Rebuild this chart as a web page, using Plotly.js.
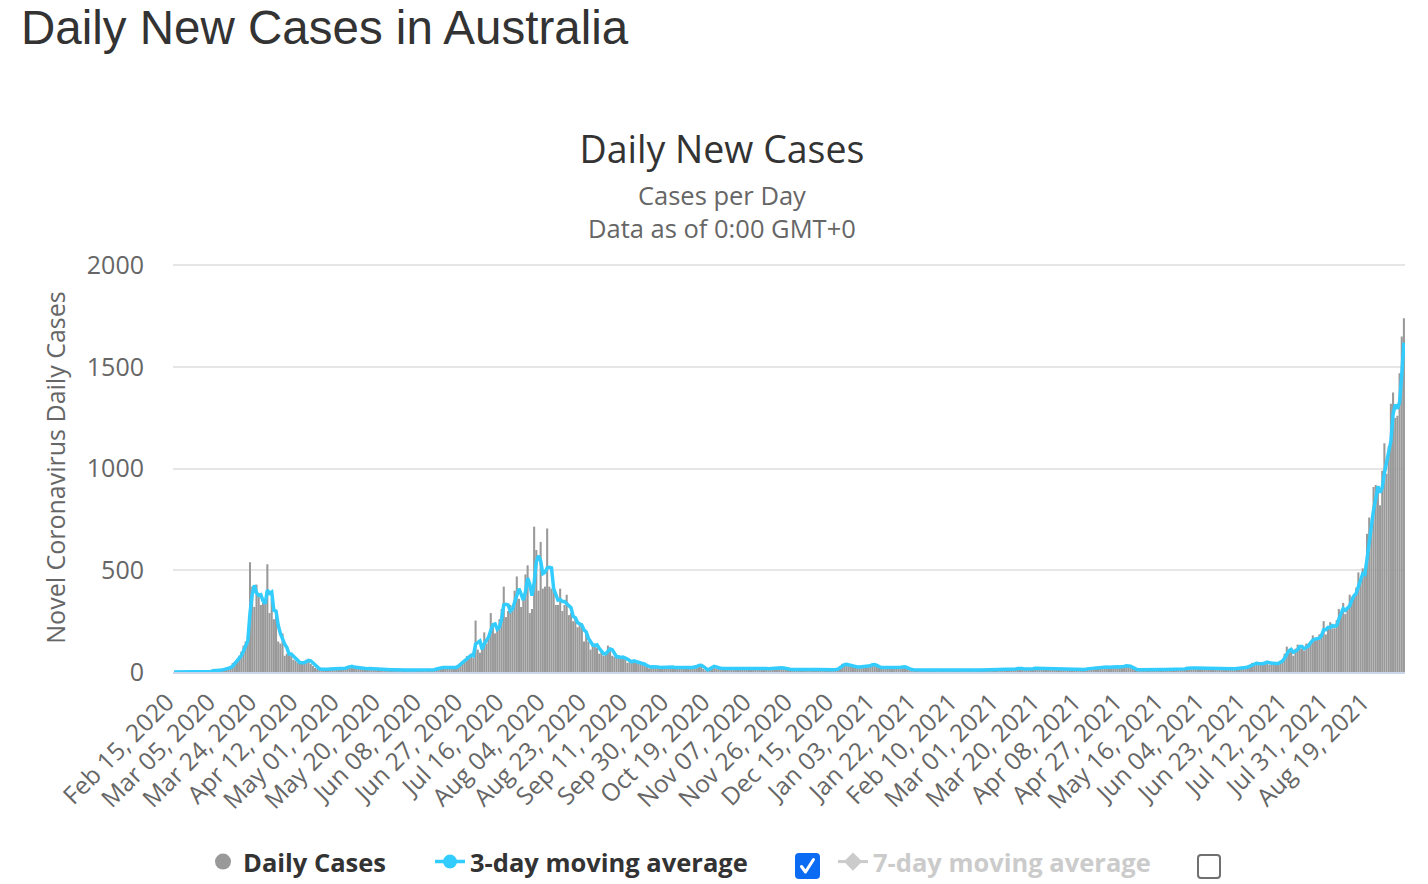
<!DOCTYPE html>
<html>
<head>
<meta charset="utf-8">
<script src="https://cdn.plot.ly/plotly-3.0.1.min.js"></script>
<style>
  html, body { margin: 0; padding: 0; background: #fff; }
  #wrap { position: relative; width: 1428px; height: 884px; }
  #chart { width: 1428px; height: 884px; }
  .box { position: absolute; box-sizing: border-box; border-radius: 4px; }
  #box3 { left: 795px; top: 853px; width: 25px; height: 26px; background: #0b6bf2; }
  #box7 { left: 1197px; top: 854px; width: 24px; height: 25px; border: 2px solid #707070; background: #fff; }
</style>
</head>
<body>
<div id="wrap">
  <div id="chart"></div>
  <div class="box" id="box3"><svg width="25" height="26" viewBox="0 0 25 26"><path d="M6.5 13.5 L10.5 19 L18.5 6.5" fill="none" stroke="#fff" stroke-width="3" stroke-linecap="round" stroke-linejoin="round"/></svg></div>
  <div class="box" id="box7"></div>
</div>
<script>
// daily new cases (first day Feb 15, 2020)
const cases2020Feb = [0,0,0,0,0,0,2,4,0,0,0,0,1,2,1];
const cases2020Mar = [2,4,3,11,11,8,8,12,15,20, 15,28,44,50,60,80,100,130,150,180, 540,420,320,430,380,330,340,340,530,290, 360];
const cases2020Apr = [260,280,150,140,190,80,90,95,80,60, 55,45,40,50,45,60,65,40,30,20, 15,12,15,10,18,12,14,20,15,18];
const cases2020May = [20,15,17,22,30,28,25,20,22,18, 15,17,14,16,20,12,14,10,12,15, 10,12,10,14,9,11,15,12,10,14, 9];
const cases2020Jun = [8,12,10,6,12,8,10,7,9,11, 10,8,12,15,18,20,25,22,18,25, 20,19,19,30,35,45,55,60,78,80];
const cases2020Jul = [90,70,253,110,95,130,195,140,180,290, 230,190,210,260,310,420,270,300,330,300, 400,470,360,320,380,480,525,290,310,715, 600];
const cases2020Aug = [400,640,410,420,706,420,410,400,330,330, 410,300,330,380,280,290,250,260,220,230, 240,150,200,150,110,140,140,120,90,100, 80];
const cases2020Sep = [90,130,120,80,75,70,80,65,75,70, 45,55,50,60,45,50,45,35,35,25, 18,30,28,22,25,20,24,18,20,25];
const cases2020Oct = [22,25,18,24,20,26,22,19,25,23, 20,28,32,38,30,15,8,10,25,30, 28,18,16,20,15,18,22,14,17,19, 16];
const cases2020Nov = [15,20,17,14,22,18,16,19,21,15, 17,20,18,14,16,22,19,17,20,24, 18,16,14,12,15,11,13,12,14,10];
const cases2020Dec = [12,14,10,13,15,11,12,14,9,13, 16,12,10,14,11,13,18,30,40,38, 35,32,28,25,22,27,24,26,28,25, 30];
const cases2021Jan = [38,40,32,25,22,20,24,22,25,20, 18,22,24,20,26,28,22,15,12,10, 12,9,11,8,10,12,9,11,10,8, 12];
const cases2021Feb = [10,12,9,11,13,10,8,12,11,9, 14,12,10,11,9,13,10,12,8,11, 10,9,12,11,10,13,9,11];
const cases2021Mar = [10,12,11,9,13,14,12,15,18,20, 17,14,12,15,13,16,18,20,15,17, 22,19,16,14,18,20,17,15,19,16, 18];
const cases2021Apr = [15,14,12,16,13,12,11,10,13,15, 18,16,20,24,26,22,25,27,24,22, 25,28,30,26,22,25,28,30,34,30];
const cases2021May = [22,15,12,10,13,11,12,14,10,12, 9,13,11,12,10,14,12,11,13,10, 12,14,11,13,15,18,22,20,18,22, 20];
const cases2021Jun = [18,22,20,19,21,17,22,20,18,21, 19,17,20,18,16,15,18,14,17,20, 22,18,25,30,35,45,40,45,40,38];
const cases2021Jul = [45,50,50,35,45,40,40,45,55,60, 90,125,100,110,80,115,135,125,115,105, 140,140,150,180,155,160,185,190,250,185, 225];
const cases2021Aug = [245,215,215,255,310,285,340,285,310,380, 370,375,415,490,450,510,480,680,760,720, 910,920,910,820,990,1125,975,1110,1320,1375, 1250];
const cases2021Sep = [1260,1470,1650,1740];

const daily = [].concat(
  cases2020Feb, cases2020Mar, cases2020Apr, cases2020May, cases2020Jun, cases2020Jul,
  cases2020Aug, cases2020Sep, cases2020Oct, cases2020Nov, cases2020Dec,
  cases2021Jan, cases2021Feb, cases2021Mar, cases2021Apr, cases2021May, cases2021Jun,
  cases2021Jul, cases2021Aug, cases2021Sep
);

const monthNames = ['Jan','Feb','Mar','Apr','May','Jun','Jul','Aug','Sep','Oct','Nov','Dec'];
const firstDay = Date.UTC(2020, 1, 15);
const dates = daily.map((_, i) => {
  const d = new Date(firstDay + i * 86400000);
  return monthNames[d.getUTCMonth()] + ' ' + String(d.getUTCDate()).padStart(2, '0') + ', ' + d.getUTCFullYear();
});
const tickDates = dates.filter((_, i) => i % 19 === 0);
const yTicks = [0, 500, 1000, 1500, 2000];

// trailing moving average, as the site draws it
function movingAverage(values, n) {
  return values.map((_, i) => {
    const win = values.slice(Math.max(0, i - n + 1), i + 1);
    return win.reduce((a, b) => a + b, 0) / win.length;
  });
}

// pixel -> paper / container helpers for things placed outside the plot
const px = v => (v - 173) / 1232;
const py = v => (672 - v) / 409;
const cx = v => v / 1428;
const cy = v => 1 - v / 884;

const data = [
  {type: 'bar', x: dates, y: daily, marker: {color: '#999999'}, showlegend: false, hoverinfo: 'skip'},
  {type: 'scatter', mode: 'lines', x: dates, y: movingAverage(daily, 3),
   line: {color: '#33ccff', width: 3.5}, showlegend: false, hoverinfo: 'skip'},
  {type: 'scatter', mode: 'markers', x: [null], y: [null], name: '<b>Daily Cases</b>',
   marker: {color: '#999999', size: 22}, legend: 'legend'},
  {type: 'scatter', mode: 'lines+markers', x: [null], y: [null], name: '<b>3-day moving average</b>',
   line: {color: '#33ccff', width: 3.5}, marker: {color: '#33ccff', size: 14}, legend: 'legend2'},
  {type: 'scatter', mode: 'lines+markers', x: dates, y: movingAverage(daily, 7), name: '<b>7-day moving average</b>',
   visible: 'legendonly', line: {color: '#999999', width: 3}, marker: {color: '#999999', size: 14, symbol: 'diamond'},
   legend: 'legend3'}
];

const legendBase = {orientation: 'h', xref: 'container', yref: 'container', xanchor: 'left', yanchor: 'middle',
  y: cy(862), bgcolor: 'rgba(0,0,0,0)', font: {size: 25.5, color: '#333333'}};

const layout = {
  width: 1428, height: 884,
  margin: {l: 173, r: 23, t: 263, b: 212},
  paper_bgcolor: '#ffffff', plot_bgcolor: '#ffffff',
  font: {family: 'Open Sans, sans-serif', color: '#666666', size: 25},
  bargap: 0.05,
  title: {text: 'Daily New Cases', font: {size: 37.5, color: '#333333'},
    xref: 'container', x: cx(722), xanchor: 'center',
    yref: 'container', y: cy(150), yanchor: 'middle'},
  xaxis: {type: 'category', range: [-0.5, daily.length - 0.5], tickmode: 'array',
    tickvals: tickDates, ticktext: tickDates, tickangle: -45,
    tickfont: {size: 24.5, color: '#666666'}, showgrid: false, zeroline: false,
    showline: true, linecolor: '#ccd6eb', linewidth: 2, ticks: '', fixedrange: true,
    ticklabelstandoff: 4, ticklabelshift: -7},
  yaxis: {range: [0, 2012], tickmode: 'array', tickvals: yTicks,
    gridcolor: '#e6e6e6', gridwidth: 2, zeroline: false, showline: false, ticks: '',
    tickfont: {size: 25, color: '#666666'}, ticklabelstandoff: 28, fixedrange: true,
    title: {text: 'Novel Coronavirus Daily Cases', font: {size: 25, color: '#666666'}, standoff: 14}},
  legend: Object.assign({}, legendBase, {x: cx(203)}),
  legend2: Object.assign({}, legendBase, {x: cx(430)}),
  legend3: Object.assign({}, legendBase, {x: cx(833), font: {size: 25.5, color: '#999999'}}),
  annotations: [
    {xref: 'paper', yref: 'paper', x: px(19), y: py(27), xanchor: 'left', yanchor: 'middle', showarrow: false,
     text: 'Daily New Cases in Australia', font: {family: 'Liberation Sans, Arial, sans-serif', size: 47.5, color: '#333333'}},
    {xref: 'paper', yref: 'paper', x: px(722), y: py(212), xanchor: 'center', yanchor: 'middle', showarrow: false,
     text: 'Cases per Day<br>Data as of 0:00 GMT+0', font: {size: 25.5, color: '#666666'}}
  ]
};

Plotly.newPlot('chart', data, layout, {displayModeBar: false, staticPlot: true});
</script>
</body>
</html>
